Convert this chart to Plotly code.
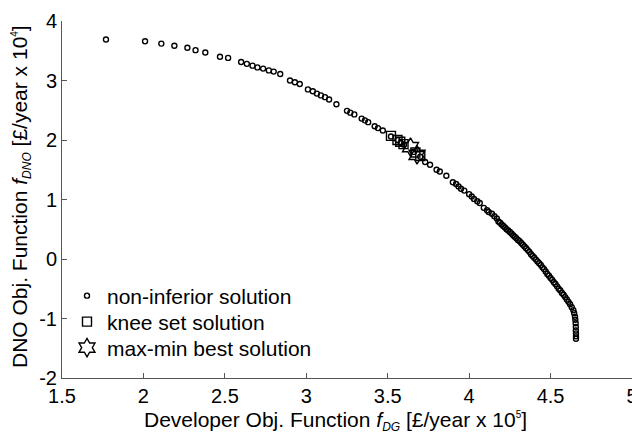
import plotly.graph_objects as go

# non-inferior (Pareto) solutions: developer objective (x 1e5), DNO objective (x 1e4)
pareto_x = [1.77, 2.01, 2.11, 2.19, 2.27, 2.32, 2.38, 2.47, 2.52, 2.60,
            2.635, 2.67, 2.70, 2.735, 2.77, 2.80, 2.84, 2.90, 2.93, 2.96,
            3.01, 3.04, 3.065, 3.09, 3.115, 3.14, 3.185, 3.25, 3.27, 3.295,
            3.34, 3.36, 3.38, 3.42, 3.44, 3.47, 3.52, 3.56, 3.58, 3.60,
            3.66, 3.70, 3.73, 3.76, 3.80, 3.82, 3.86, 3.90, 3.92, 3.935,
            3.95, 3.97, 4.00, 4.016, 4.03, 4.05, 4.065, 4.09, 4.11, 4.12,
            4.14, 4.155, 4.17, 4.18, 4.19, 4.20, 4.21, 4.22, 4.23, 4.24,
            4.25, 4.26, 4.27, 4.28, 4.29, 4.30, 4.31, 4.32, 4.33, 4.34,
            4.35, 4.36, 4.37, 4.38, 4.39, 4.40, 4.41, 4.42, 4.43, 4.44,
            4.45, 4.46, 4.47, 4.48, 4.49, 4.50, 4.51, 4.52, 4.53, 4.54,
            4.55, 4.56, 4.57, 4.58, 4.59, 4.60, 4.61, 4.62, 4.63, 4.64,
            4.645, 4.65, 4.652, 4.654, 4.655, 4.655, 4.656, 4.656, 4.656]
pareto_y = [3.69, 3.66, 3.62, 3.585, 3.55, 3.51, 3.47, 3.40, 3.38, 3.31,
            3.28, 3.25, 3.22, 3.20, 3.17, 3.15, 3.11, 3.00, 2.97, 2.94,
            2.85, 2.82, 2.78, 2.75, 2.72, 2.68, 2.60, 2.49, 2.46, 2.43,
            2.36, 2.33, 2.30, 2.23, 2.20, 2.16, 2.06, 2.00, 1.95, 1.92,
            1.80, 1.72, 1.63, 1.585, 1.50, 1.47, 1.40, 1.29, 1.26, 1.22,
            1.18, 1.15, 1.09, 1.05, 1.01, 0.97, 0.94, 0.86, 0.82, 0.79,
            0.76, 0.72, 0.68, 0.63, 0.61, 0.58, 0.555, 0.53, 0.50, 0.48,
            0.455, 0.43, 0.40, 0.375, 0.35, 0.32, 0.30, 0.27, 0.24, 0.21,
            0.18, 0.15, 0.12, 0.08, 0.05, 0.02, -0.01, -0.04, -0.07, -0.10,
            -0.14, -0.17, -0.21, -0.25, -0.28, -0.32, -0.35, -0.39, -0.42, -0.46,
            -0.50, -0.53, -0.57, -0.60, -0.64, -0.68, -0.72, -0.76, -0.81, -0.86,
            -0.91, -0.97, -1.02, -1.08, -1.14, -1.20, -1.25, -1.30, -1.34]

# knee set solutions
knee_x = [3.52, 3.56, 3.577, 3.597, 3.67, 3.70]
knee_y = [2.07, 2.00, 1.97, 1.93, 1.79, 1.73]

# max-min best solutions
best_x = [3.64, 3.68]
best_y = [1.88, 1.75]

x_ticks = [1.5, 2, 2.5, 3, 3.5, 4, 4.5, 5]
x_tick_labels = ["1.5", "2", "2.5", "3", "3.5", "4", "4.5", "5"]
y_ticks = [-2, -1, 0, 1, 2, 3, 4]
y_tick_labels = ["-2", "-1", "0", "1", "2", "3", "4"]

FONT = "Liberation Sans, Arial, sans-serif"
L, T, PW, PH = 62, 21, 570, 357  # plot area in px


def px_x(px):
    return (px - L) / PW


def px_y(py):
    return (T + PH - py) / PH


fig = go.Figure()
fig.add_trace(go.Scatter(
    x=pareto_x, y=pareto_y, mode="markers", name="non-inferior solution", legend="legend",
    marker=dict(symbol="circle-open", size=5, color="black", line=dict(width=1.4, color="black")),
))
fig.add_trace(go.Scatter(
    x=knee_x, y=knee_y, mode="markers", name="knee set solution", legend="legend2",
    marker=dict(symbol="square-open", size=9, color="black", line=dict(width=1.4, color="black")),
))
fig.add_trace(go.Scatter(
    x=best_x, y=best_y, mode="markers", name="max-min best solution", legend="legend3",
    marker=dict(symbol="hexagram-open", size=14, color="black", line=dict(width=1.4, color="black")),
))

axis_common = dict(
    showgrid=False, zeroline=False, showline=True, linecolor="#555555", linewidth=1,
    ticks="inside", ticklen=5, tickcolor="#555555", tickwidth=1,
    tickfont=dict(family=FONT, size=20, color="black"), automargin=False,
    ticklabeloverflow="allow",
)

fig.update_xaxes(range=[1.5, 5.0], tickmode="array", tickvals=x_ticks, ticktext=x_tick_labels, **axis_common)
fig.update_yaxes(range=[-2, 4], tickmode="array", tickvals=y_ticks, ticktext=y_tick_labels, **axis_common)

fig.add_annotation(
    xref="paper", yref="paper", x=px_x(335), y=px_y(421),
    text="Developer Obj. Function <i>f</i><sub><i><span style='font-size:12px'>DG</span></i></sub> [£/year x 10<sup><span style='font-size:10px'>5</span></sup>]",
    showarrow=False, font=dict(family=FONT, size=21, color="black"),
    xanchor="center", yanchor="middle",
)
fig.add_annotation(
    xref="paper", yref="paper", x=px_x(21), y=px_y(197),
    text="DNO Obj. Function <i>f</i><sub><i><span style='font-size:12px'>DNO</span></i></sub> [£/year x 10<sup><span style='font-size:10px'>4</span></sup>]",
    showarrow=False, textangle=-90, font=dict(family=FONT, size=21, color="black"),
    xanchor="center", yanchor="middle",
)

leg_common = dict(
    xanchor="left", yanchor="middle", bgcolor="rgba(0,0,0,0)",
    font=dict(family=FONT, size=21, color="black"), itemsizing="trace",
)
fig.update_layout(
    width=632, height=436,
    margin=dict(l=L, r=632 - L - PW, t=T, b=436 - T - PH),
    paper_bgcolor="white", plot_bgcolor="white",
    showlegend=True,
    legend=dict(x=px_x(67), y=px_y(296), **leg_common),
    legend2=dict(x=px_x(67), y=px_y(322), **leg_common),
    legend3=dict(x=px_x(67), y=px_y(348), **leg_common),
)

fig.write_html("out.html", config={"displayModeBar": False},
               post_script="document.body.style.margin='0px';")
